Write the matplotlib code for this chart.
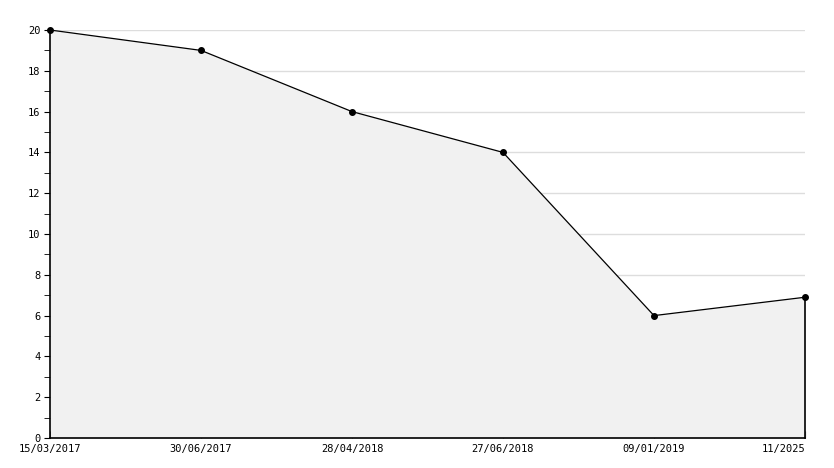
import numpy as np
import matplotlib.pyplot as plt

dates = ['15/03/2017', '30/06/2017', '28/04/2018', '27/06/2018', '09/01/2019', '11/2025']
values = [20, 19, 16, 14, 6, 6.9]

plt.rcParams['font.family'] = 'DejaVu Sans Mono'

fig = plt.figure(figsize=(8.34, 4.68), dpi=100)
ax = fig.add_axes([50 / 834, 30 / 468, 755 / 834, 408 / 468])

x = np.arange(len(values))
ax.fill_between(x, values, 0, color='#f1f1f1', lw=0, zorder=1)
ax.plot([x[-1], x[-1]], [0, values[-1]], color='black', lw=1.2, zorder=3, clip_on=False)
ax.plot(x, values, color='black', lw=0.9, marker='o', markersize=4, zorder=4, clip_on=False)

ax.set_xlim(0, len(values) - 1)
ax.set_ylim(0, 20)
ax.set_yticks(np.arange(0, 21, 2))
ax.set_yticks(np.arange(1, 20, 2), minor=True)
ax.set_xticks(x)
ax.set_xticklabels(dates)
ax.get_xticklabels()[-1].set_horizontalalignment('right')

ax.yaxis.grid(True, color='#dddddd', lw=1, zorder=0)
ax.set_axisbelow(True)
for s in ['top', 'right']:
    ax.spines[s].set_visible(False)
for s in ['left', 'bottom']:
    ax.spines[s].set_linewidth(1.2)
    ax.spines[s].set_zorder(5)
ax.tick_params(axis='y', direction='out', length=4, labelsize=7.5, pad=3)
ax.tick_params(axis='y', which='minor', direction='out', length=4)
ax.tick_params(axis='x', direction='in', length=5, labelsize=7.5, pad=4)

fig.savefig('out.png', dpi=100)
